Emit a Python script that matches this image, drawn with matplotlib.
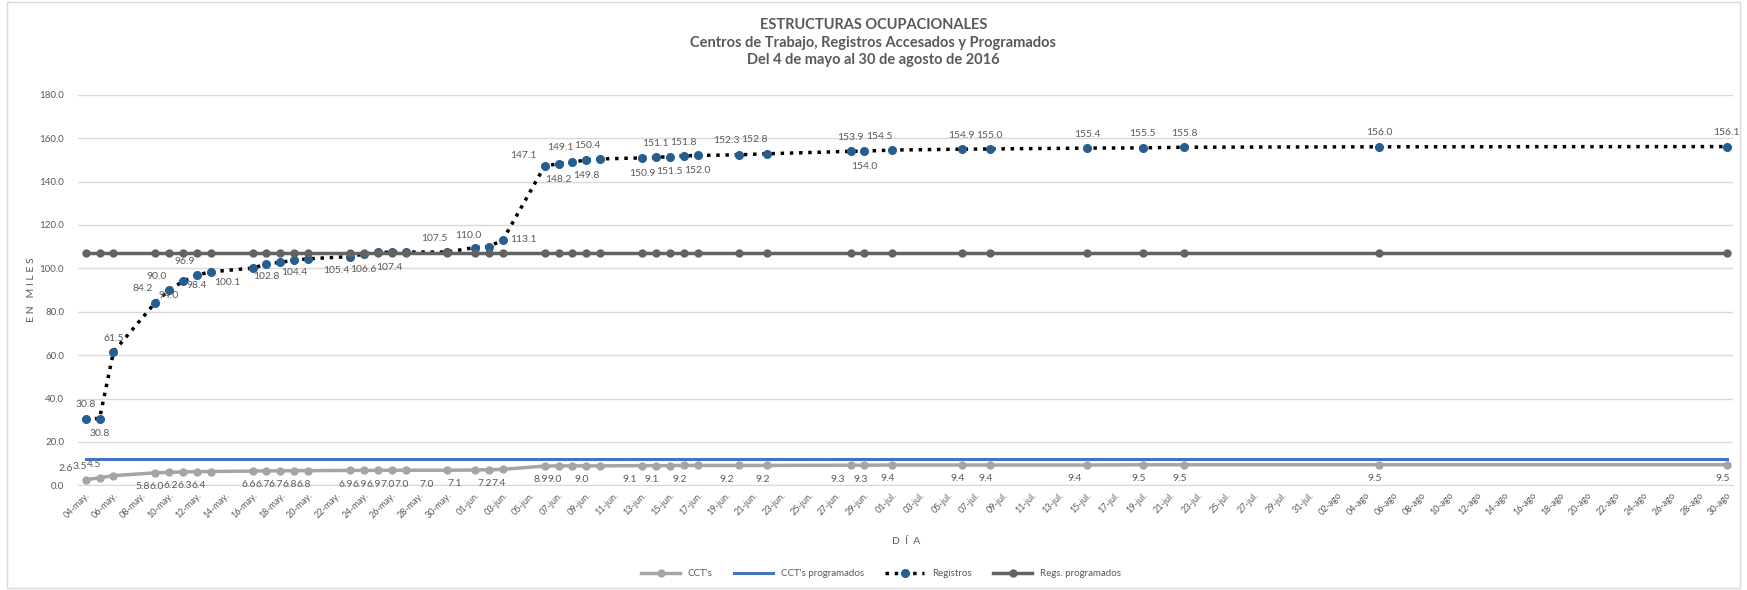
import matplotlib.pyplot as plt
import matplotlib.patches as mpatches
import numpy as np
import pandas as pd

plt.rcParams['font.family'] = ['Lato', 'DejaVu Sans']

# fechas con registro (2016)
fechas = ['2016-05-04', '2016-05-05', '2016-05-06', '2016-05-09', '2016-05-10',
          '2016-05-11', '2016-05-12', '2016-05-13', '2016-05-16', '2016-05-17',
          '2016-05-18', '2016-05-19', '2016-05-20', '2016-05-23', '2016-05-24',
          '2016-05-25', '2016-05-26', '2016-05-27', '2016-05-30', '2016-06-01',
          '2016-06-02', '2016-06-03', '2016-06-06', '2016-06-07', '2016-06-08',
          '2016-06-09', '2016-06-10', '2016-06-13', '2016-06-14', '2016-06-15',
          '2016-06-16', '2016-06-17', '2016-06-20', '2016-06-22', '2016-06-28',
          '2016-06-29', '2016-07-01', '2016-07-06', '2016-07-08', '2016-07-15',
          '2016-07-19', '2016-07-22', '2016-08-05', '2016-08-30']

ccts = [2.6, 3.5, 4.5, 5.8, 6.0, 6.2, 6.3, 6.4, 6.6, 6.7, 6.7, 6.8, 6.8, 6.9, 6.9,
        6.9, 7.0, 7.0, 7.0, 7.1, 7.2, 7.4, 8.9, 9.0, 9.0, 9.0, 9.0, 9.1, 9.1, 9.1,
        9.2, 9.2, 9.2, 9.2, 9.3, 9.3, 9.4, 9.4, 9.4, 9.4, 9.5, 9.5, 9.5, 9.5]

registros = [30.8, 30.8, 61.5, 84.2, 90.0, 94.0, 96.9, 98.4, 100.1, 102.0, 102.8,
             103.7, 104.4, 105.4, 106.6, 107.4, 107.4, 107.5, 107.5, 109.6, 110.0,
             113.1, 147.1, 148.2, 149.1, 149.8, 150.4, 150.9, 151.1, 151.5, 151.8,
             152.0, 152.3, 152.8, 153.9, 154.0, 154.5, 154.9, 155.0, 155.4, 155.5,
             155.8, 156.0, 156.1]

ccts_prog = 12.2
regs_prog = 107.1

fecha_ini = '2016-05-04'
fecha_fin = '2016-08-30'
meses = {5: 'may.', 6: 'jun.', 7: 'jul.', 8: 'ago'}

# colocacion de etiquetas (a=arriba, b=abajo, l/L=izquierda, r=derecha, -=sin etiqueta)
reg_pos = ['a', 'b', 'a', 'al', 'al', 'bl', 'al', 'bl', 'bL', '-',
           'bl', '-', 'bl', 'bl', 'b', 'br', '-', '-', 'al', '-',
           'aL', 'r', 'aL', 'b', 'al', 'b', 'al', 'b', 'a', 'b',
           'a', 'b', 'al', 'al', 'a', 'b', 'al', 'a', 'a', 'a',
           'a', 'a', 'a', 'a']
cct_pos = (['aL'] * 3 + ['bl'] * 5 + ['b'] * 10 + ['bL'] * 2 + ['b'] * 4
           + ['-', 'b', '-', 'bl', 'b', '-', 'b', '-', 'bl', 'b', 'bl', 'b', 'b',
              'b', 'b', 'bl', 'b', 'b', 'b', 'b'])

offs = {'a': (0, 10), 'al': (-9, 10), 'aL': (-15, 8), 'b': (0, -11), 'bl': (-10, -10),
        'bL': (-18, -10), 'br': (8, -11), 'r': (15, 0)}
offs_cct = {'aL': (-14, 8), 'b': (-3, -10), 'bl': (-9, -10), 'bL': (-15, -10)}

d0 = pd.Timestamp(fecha_ini)
x = np.array((pd.to_datetime(fechas) - d0).days)
n_dias = (pd.Timestamp(fecha_fin) - d0).days

fig = plt.figure(figsize=(17.47, 5.9), dpi=100)
fig.patches.append(mpatches.Rectangle((0.004, 0.004), 0.992, 0.992, transform=fig.transFigure,
                                      fill=False, edgecolor='#D9D9D9', lw=1))
ax = fig.add_axes([78 / 1747, 1 - 485.4 / 590, (1733 - 78) / 1747, (485.4 - 94.7) / 590])

gris = '#595959'
l1, = ax.plot(x, ccts, '-o', color='#A5A5A5', lw=2.5, ms=5, label="CCT's")
l2, = ax.plot([x[0], x[-1]], [ccts_prog, ccts_prog], '-', color='#4472C4', lw=2.2,
              label="CCT's programados")
l3, = ax.plot(x, registros, ':', color='black', lw=2.5, marker='o', ms=5.5,
              mfc='#255E91', mec='#255E91', label='Registros')
l4, = ax.plot(x, [regs_prog] * len(x), '-o', color='#636363', lw=2.5, ms=5,
              label='Regs. programados')

for xi, v, p in zip(x, registros, reg_pos):
    if p == '-':
        continue
    ax.annotate(f'{v:.1f}', (xi, v), xytext=offs[p], textcoords='offset points',
                ha='center', va='center', fontsize=7.5, color=gris)
for xi, v, p in zip(x, ccts, cct_pos):
    if p == '-':
        continue
    ax.annotate(f'{v:.1f}', (xi, v), xytext=offs_cct[p], textcoords='offset points',
                ha='center', va='center', fontsize=7.5, color=gris)

ax.set_xlim(-0.55, n_dias + 0.45)
ax.set_ylim(0, 180)
ax.set_yticks(np.arange(0, 181, 20))
ax.set_yticklabels([f'{t:.1f}' for t in np.arange(0, 181, 20)], fontsize=7, color=gris)
ticks = np.arange(0, n_dias + 1, 2)
tick_lbl = []
for t in ticks:
    d = d0 + pd.Timedelta(days=int(t))
    tick_lbl.append(f'{d.day:02d}-{meses[d.month]}')
ax.set_xticks(ticks)
ax.set_xticklabels(tick_lbl, rotation=45, ha='right', rotation_mode='anchor',
                   fontsize=6.5, color=gris)
ax.tick_params(axis='both', length=0, pad=4)
ax.tick_params(axis='y', pad=10)
ax.grid(axis='y', color='#D9D9D9', lw=1)
ax.set_axisbelow(True)
for s in ['left', 'right', 'top']:
    ax.spines[s].set_visible(False)
ax.spines['bottom'].set_color('#D9D9D9')

fig.text(32 / 1747, 1 - 290 / 590, 'E N   M I L E S', rotation=90, ha='center', va='center',
         fontsize=7.5, color=gris)
fig.text(906 / 1747, 1 - 541 / 590, 'D  Í  A', ha='center', va='center', fontsize=7.5, color=gris)

fig.text(0.5, 1 - 25 / 590, 'ESTRUCTURAS OCUPACIONALES', ha='center', va='center',
         fontsize=10.5, fontweight='bold', color=gris)
fig.text(0.5, 1 - 43 / 590, 'Centros de Trabajo, Registros Accesados y Programados',
         ha='center', va='center', fontsize=10.5, fontweight='bold', color=gris)
fig.text(0.5, 1 - 60 / 590, 'Del 4 de mayo al 30 de agosto de 2016', ha='center', va='center',
         fontsize=10.5, fontweight='bold', color=gris)

fig.legend(handles=[l1, l2, l3, l4], loc='center', bbox_to_anchor=(881 / 1747, 1 - 574 / 590),
           ncol=4, frameon=False, fontsize=7, labelcolor=gris, handlelength=4,
           columnspacing=2.2)

fig.savefig('out.png', dpi=100)
